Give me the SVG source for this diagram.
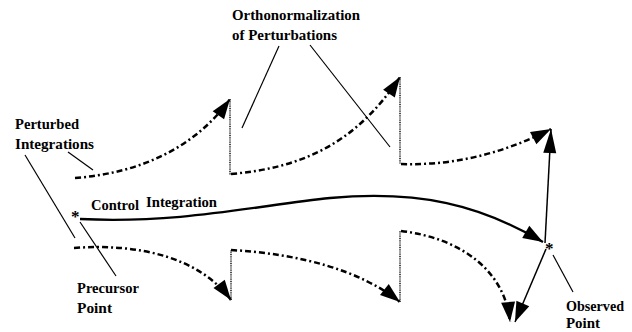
<svg xmlns="http://www.w3.org/2000/svg" width="632" height="332" viewBox="0 0 632 332">
<style>
.lbl{font-weight:bold;font-size:14px;fill:#000}
.star{font-weight:bold;font-size:17px;fill:#000}
.dd{fill:none;stroke:#000;stroke-width:2.5;stroke-dasharray:6 3 2 3}
.dot{fill:none;stroke:#222;stroke-width:1.6;stroke-dasharray:1 0.8}
.solid{fill:none;stroke:#000;stroke-width:2.3}
.thin{fill:none;stroke:#000;stroke-width:1.5}
.lead{fill:none;stroke:#000;stroke-width:1.2}
</style>
<defs>
<marker id="ah" viewBox="-21 -8 22 16" refX="0" refY="0" markerWidth="22" markerHeight="16" markerUnits="userSpaceOnUse" orient="auto">
<path d="M0,0 L-20,-7 L-20,7 Z" fill="#000"/>
</marker>
<marker id="ahL" viewBox="-25 -8 26 16" refX="0" refY="0" markerWidth="26" markerHeight="16" markerUnits="userSpaceOnUse" orient="auto">
<path d="M0,0 L-24,-6.5 L-24,6.5 Z" fill="#000"/>
</marker>
</defs>
<g id="connectors">
<path class="dd" d="M75,178 C140,173 195,148 230,99" marker-end="url(#ah)"/>
<path class="dot" d="M230,99 L230,175"/>
<path class="dd" d="M231,174 C300,168 355,145 400,77" marker-end="url(#ah)"/>
<path class="dot" d="M400,77 L400,164"/>
<path class="dd" d="M401,164 C460,166 510,150 551,129" marker-end="url(#ah)"/>
<path class="solid" d="M80,219 C180,224 260,205 330,198 C420,190 480,205 543,242" marker-end="url(#ah)"/>
<path class="dd" d="M74,248 C140,243 200,258 231,300" marker-end="url(#ah)"/>
<path class="dot" d="M231,300 L231,250"/>
<path class="dd" d="M231,250 C300,254 360,270 400,302" marker-end="url(#ah)"/>
<path class="dot" d="M400,302 L400,231"/>
<path class="dd" d="M401,231 C460,238 505,270 510,322" marker-end="url(#ah)"/>
<path class="thin" d="M545,243 L551,129" marker-end="url(#ahL)"/>
<path class="thin" d="M546,249 L515,322" marker-end="url(#ah)"/>
<path class="lead" d="M279,46 L242,128"/>
<path class="lead" d="M310,45 L390,147"/>
<path class="lead" d="M25,155 L75,238"/>
<path class="lead" d="M68,152 L93,170"/>
<path class="lead" d="M80,222 L116,276"/>
<path class="lead" d="M553,255 L573,292"/>
</g>
<g font-family="Liberation Serif, Times New Roman, serif">
<g id="orthonormalization">
<text class="lbl" x="232" y="20" textLength="128" lengthAdjust="spacingAndGlyphs">Orthonormalization</text>
<text class="lbl" x="232" y="40" textLength="105" lengthAdjust="spacingAndGlyphs">of Perturbations</text>
</g>
<g id="perturbed">
<text class="lbl" x="15" y="129" textLength="64" lengthAdjust="spacingAndGlyphs">Perturbed</text>
<text class="lbl" x="15" y="149" textLength="79" lengthAdjust="spacingAndGlyphs">Integrations</text>
</g>
<g id="control">
<text class="lbl" x="91" y="210" textLength="48" lengthAdjust="spacingAndGlyphs">Control</text>
<text class="lbl" x="146" y="207" textLength="71" lengthAdjust="spacingAndGlyphs">Integration</text>
</g>
<g id="precursor">
<text class="star" x="71" y="222">*</text>
<text class="lbl" x="77" y="293" textLength="62" lengthAdjust="spacingAndGlyphs">Precursor</text>
<text class="lbl" x="77" y="313" textLength="35" lengthAdjust="spacingAndGlyphs">Point</text>
</g>
<g id="observed">
<text class="star" x="545" y="254">*</text>
<text class="lbl" x="566" y="311" textLength="58" lengthAdjust="spacingAndGlyphs">Observed</text>
<text class="lbl" x="566" y="328" textLength="34" lengthAdjust="spacingAndGlyphs">Point</text>
</g>
</g>
</svg>
